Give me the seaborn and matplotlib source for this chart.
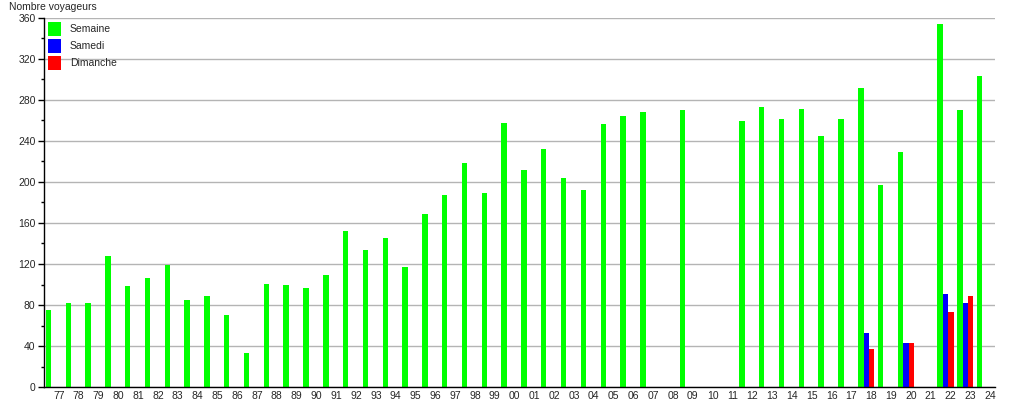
import matplotlib
matplotlib.use("Agg")
import matplotlib.pyplot as plt
from matplotlib.ticker import MultipleLocator
import numpy as np
import pandas as pd
import seaborn as sns

# data
annees = ["77", "78", "79", "80", "81", "82", "83", "84", "85", "86", "87", "88",
          "89", "90", "91", "92", "93", "94", "95", "96", "97", "98", "99", "00",
          "01", "02", "03", "04", "05", "06", "07", "08", "09", "10", "11", "12",
          "13", "14", "15", "16", "17", "18", "19", "20", "21", "22", "23", "24"]
semaine = [75, 82, 82, 128, 99, 106, 119, 85, 89, 70, 33, 101,
           100, 97, 109, 152, 134, 145, 117, 169, 187, 218, 189, 257,
           212, 232, 204, 192, 256, 264, 268, np.nan, 270, np.nan, np.nan, 259,
           273, 261, 271, 245, 261, 291, 197, 229, np.nan, 354, 270, 303]
samedi_annees = ["18", "20", "22", "23"]
samedi = [53, 43, 91, 82]
dimanche_annees = ["18", "20", "22", "23"]
dimanche = [37, 43, 73, 89]

jours = ["Semaine", "Samedi", "Dimanche"]
couleurs = ["#00ff00", "#0000ff", "#ff0000"]

# 0. long table for seaborn
df = pd.concat([
    pd.DataFrame({"annee": annees, "jour": "Semaine", "voyageurs": semaine}),
    pd.DataFrame({"annee": samedi_annees, "jour": "Samedi", "voyageurs": samedi}),
    pd.DataFrame({"annee": dimanche_annees, "jour": "Dimanche", "voyageurs": dimanche}),
]).dropna()

# 1. plot
sns.set_style("white")
plt.rcParams["font.family"] = ["Liberation Sans", "DejaVu Sans"]
plt.rcParams["font.size"] = 7.5

fig = plt.figure(figsize=(10.15, 4.0), dpi=100)
ax = fig.add_axes([0.0433, 0.032, 0.937, 0.924])

sns.barplot(data=df, x="annee", y="voyageurs", hue="jour", order=annees,
            hue_order=jours, palette=couleurs, width=0.82, dodge=True,
            errorbar=None, saturation=1, linewidth=0, ax=ax)

# 2. styling
ax.set_xlim(-0.5, len(annees) - 0.5)
ax.set_ylim(0, 360)
ax.yaxis.set_major_locator(MultipleLocator(40))
ax.yaxis.set_minor_locator(MultipleLocator(20))
ax.grid(axis="y", which="major", color="#b4b4b4", linewidth=1)
ax.set_axisbelow(True)
ax.set_xticks(np.arange(len(annees)) + 0.25)
ax.set_xticklabels(annees)
ax.tick_params(axis="x", length=0, pad=3, labelsize=7.5)
ax.tick_params(axis="y", which="major", length=4, width=1, color="black",
               direction="out", left=True, pad=2, labelsize=7.5)
ax.tick_params(axis="y", which="minor", length=2, width=1, color="black",
               direction="out", left=True)
for side in ["top", "right"]:
    ax.spines[side].set_visible(False)
for side in ["left", "bottom"]:
    ax.spines[side].set_color("black")
    ax.spines[side].set_linewidth(1)
ax.set_xlabel("")
ax.set_ylabel("")

sns.move_legend(ax, "upper left", bbox_to_anchor=(-0.002, 1.006), frameon=False,
                title=None, handlelength=1.25, handleheight=1.7,
                handletextpad=0.8, labelspacing=0.3, borderaxespad=0.2,
                fontsize=7.5)

fig.text(0.009, 0.995, "Nombre voyageurs", ha="left", va="top", fontsize=7.5)

fig.savefig("out.png", dpi=100)
